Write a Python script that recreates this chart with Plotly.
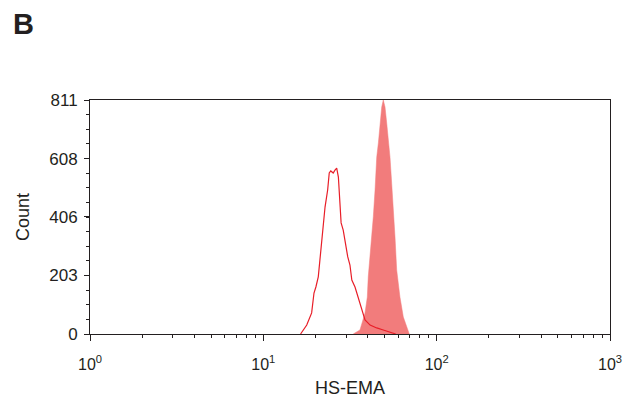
import plotly.graph_objects as go

# Unfilled (control) histogram: HS-EMA intensity vs count
ctrl_x = [16.4, 17.8, 19.0, 19.6, 20.1, 20.75, 21.2, 21.7, 22.2, 22.7, 23.5, 24.0, 24.5,
          25.3, 25.9, 26.5, 27.1, 27.4, 28.1, 28.9, 29.9, 30.7, 31.6, 32.4, 33.8, 35.3,
          36.6, 38.6, 41.3, 45.1, 49.2, 56.2, 58.0]
ctrl_y = [0, 31, 73, 142, 163, 198, 256, 315, 395, 440, 499, 558, 565,
          558, 568, 575, 544, 499, 385, 360, 302, 267, 239, 187, 163, 128,
          94, 49, 31, 21, 14, 3, 0]

# Filled (stained) histogram
stain_x = [33.0, 36.1, 38.6, 39.8, 40.3, 41.25, 42.2, 43.1, 44.1, 45.1, 46.1, 47.1, 48.2,
           49.2, 50.35, 51.5, 52.6, 53.8, 55.0, 56.2, 57.5, 58.8, 61.4, 64.2, 68.6, 69.5]
stain_y = [0, 14, 73, 128, 198, 267, 336, 406, 499, 613, 662, 731, 787,
           811, 787, 731, 683, 613, 523, 406, 336, 222, 128, 59, 3, 0]

y_ticks = [0, 203, 406, 608, 811]
x_ticks = [1, 10, 100, 1000]
x_ticktext = ["10<sup>0</sup>", "10<sup>1</sup>", "10<sup>2</sup>", "10<sup>3</sup>"]
x_minor = [m * d for d in (1, 10, 100) for m in range(2, 10)]
y_minor = [811 * i / 16 for i in range(17)]

FONT = "Liberation Sans, Arial, sans-serif"
AX = "#231f20"

fig = go.Figure()
fig.add_trace(go.Scatter(x=stain_x, y=stain_y, mode="lines", fill="tozeroy",
                         fillcolor="rgb(242,124,124)",
                         line=dict(color="rgb(242,124,124)", width=0.5),
                         showlegend=False, hoverinfo="skip"))
fig.add_trace(go.Scatter(x=ctrl_x, y=ctrl_y, mode="lines",
                         line=dict(color="rgb(232,30,40)", width=1.2),
                         showlegend=False, hoverinfo="skip"))

fig.update_layout(
    width=617, height=390,
    margin=dict(l=82, r=15, t=92, b=64),
    paper_bgcolor="white", plot_bgcolor="white",
    font=dict(family=FONT, size=16, color=AX),
    xaxis=dict(type="log", range=[0, 3], tickmode="array", tickvals=x_ticks,
               ticktext=x_ticktext, ticks="outside", ticklen=6, tickwidth=1,
               tickcolor=AX, showline=True, linecolor=AX, linewidth=1, mirror=True,
               showgrid=False, zeroline=False, tickfont=dict(size=16),
               ticklabelstandoff=10, automargin=False,
               minor=dict(tickvals=x_minor, ticks="outside", ticklen=3,
                          tickcolor=AX, showgrid=False),
               title=dict(text="HS-EMA", font=dict(size=18), standoff=10)),
    yaxis=dict(range=[0, 811], tickmode="array", tickvals=y_ticks,
               ticks="outside", ticklen=5, tickwidth=1, tickcolor=AX,
               showline=True, linecolor=AX, linewidth=1, mirror=True,
               showgrid=False, zeroline=False, tickfont=dict(size=17),
               ticklabelstandoff=3, automargin=False,
               minor=dict(tickvals=y_minor, ticks="outside", ticklen=3,
                          tickcolor=AX, showgrid=False),
               title=dict(text="Count", font=dict(size=18), standoff=14)),
    annotations=[dict(text="<b>B</b>", xref="paper", yref="paper",
                      x=-0.152, y=1.40, xanchor="left", yanchor="top",
                      showarrow=False, font=dict(size=29, color=AX, family=FONT))],
)

fig.write_html("out.html")
